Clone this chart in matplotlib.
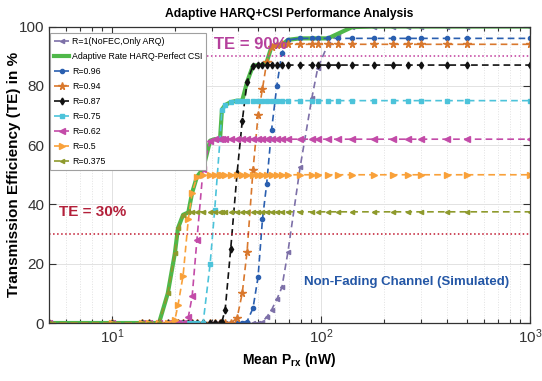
import numpy as np
import matplotlib
matplotlib.use("Agg")
import matplotlib.pyplot as plt
from matplotlib.ticker import LogLocator, NullFormatter

# shared power grid (nW)
p_rx = [5, 10, 14, 15, 16.8, 18.5, 20, 20.7, 21.9, 23.2, 24.2, 25.5, 27.3, 29.5,
        31, 32.9, 33.6, 34.8, 37, 39.7, 42, 44.3, 47.3, 50, 52.5, 55, 58, 61.5,
        65, 69.5, 79.5, 90.5, 96.5, 108, 120, 141, 180, 220, 260, 300, 400, 500, 1000]

te_r1 = [0]*24 + [0.5, 2, 4.4, 8, 12, 24, 52.6, 76, 86, 94, 97.5, 99.8] + [100]*7
te_adaptive = [0, 0, 0, 0, 0, 10, 23.5, 32, 36.5, 37.3, 44, 49.3, 52, 61.5, 62, 62,
               72, 73.5, 74.5, 75, 75, 81.3, 86.8, 87, 87, 88, 93.2, 93.8, 93.8,
               95.5, 96, 96, 96, 96, 97.5, 99.8] + [100]*7
te_096 = [0]*21 + [0.5, 5, 15.5, 35, 47, 65, 80, 91, 95.5] + [96]*13
te_094 = [0]*19 + [1.7, 10, 24, 51.6, 70, 79, 88, 93.2, 93.8] + [94]*15
te_087 = [0]*16 + [0.5, 4.4, 25, 50.6, 68, 81.3, 86.8] + [87]*20
te_075 = [0]*13 + [20, 38, 62, 72, 73.5, 74.5] + [75]*24
te_062 = [0]*9 + [2, 9, 28, 52, 61.5] + [62]*29
te_050 = [0]*6 + [1, 6, 16, 35, 44, 49.3, 49.9] + [50]*30
te_0375 = [0]*5 + [10, 23.5, 32, 36.5, 37.3] + [37.5]*33

labels = ["R=1(NoFEC,Only ARQ)", "Adaptive Rate HARQ-Perfect CSI", "R=0.96", "R=0.94",
          "R=0.87", "R=0.75", "R=0.62", "R=0.5", "R=0.375"]

plt.rcParams["font.family"] = ["Liberation Sans", "DejaVu Sans"]
plt.rcParams["mathtext.fontset"] = "custom"
plt.rcParams["mathtext.rm"] = "Liberation Sans"
plt.rcParams["mathtext.bf"] = "Liberation Sans:bold"

fig = plt.figure(figsize=(5.42, 3.81), dpi=100)
ax = fig.add_axes([0.0904, 0.1522, 0.8875, 0.7782])

dash = (0, (4, 2.5))
ax.plot(p_rx, te_r1, color="#7d70a8", ls=dash, lw=1.2, marker="<", ms=3, label=labels[0])
ax.plot(p_rx, te_adaptive, color="#4fb84a", ls="-", lw=3, label=labels[1])
ax.plot(p_rx, te_096, color="#2a5fb0", ls=dash, lw=1.2, marker="o", ms=3, label=labels[2])
ax.plot(p_rx, te_094, color="#d9782d", ls=dash, lw=1.2, marker="*", ms=5.5, label=labels[3])
ax.plot(p_rx, te_087, color="#111111", ls=dash, lw=1.2, marker="d", ms=3.5, label=labels[4])
ax.plot(p_rx, te_075, color="#4cc3da", ls=dash, lw=1.2, marker="s", ms=3, label=labels[5])
ax.plot(p_rx, te_062, color="#c34ba8", ls=dash, lw=1.2, marker="<", ms=4, label=labels[6])
ax.plot(p_rx, te_050, color="#f9a13a", ls=dash, lw=1.2, marker=">", ms=4, label=labels[7])
ax.plot(p_rx, te_0375, color="#8e9a2c", ls=dash, lw=1.2, marker="<", ms=3, label=labels[8])

ax.axhline(90, color="#c0399b", ls=":", lw=1.1)
ax.axhline(30, color="#c0172e", ls=":", lw=1.1)
ax.text(46, 93.8, "TE = 90%", color="#b5409c", fontsize=12, fontweight="bold",
        ha="center", va="center", zorder=10)
ax.text(8.1, 37.5, "TE = 30%", color="#b3203a", fontsize=11, fontweight="bold",
        ha="center", va="center")
ax.text(258, 13.8, "Non-Fading Channel (Simulated)", color="#2457a6", fontsize=9.5,
        fontweight="bold", ha="center", va="center")

ax.set_xscale("log")
ax.set_xlim(5, 1000)
ax.set_ylim(0, 100)
ax.set_yticks([0, 20, 40, 60, 80, 100])
ax.xaxis.set_minor_locator(LogLocator(base=10, subs=np.arange(2, 10)))
ax.xaxis.set_minor_formatter(NullFormatter())
ax.grid(True, which="major", color="#e2e2e2", lw=0.7)
ax.grid(True, which="minor", axis="x", color="#e2e2e2", lw=0.7, ls=":")
ax.set_axisbelow(True)
ax.tick_params(which="both", direction="in", top=True, right=True, colors="#333333",
               labelsize=11, width=0.8)
ax.tick_params(which="major", length=5)
ax.tick_params(which="minor", length=3)
for s in ax.spines.values():
    s.set_color("#333333")
    s.set_linewidth(0.9)

ax.set_title("Adaptive HARQ+CSI Performance Analysis", fontsize=8.7, fontweight="bold", pad=7)
ax.set_xlabel(r"Mean P$_{\mathbf{rx}}$ (nW)", fontsize=10, fontweight="bold", labelpad=3)
ax.set_ylabel("Transmission Efficiency (TE) in %", fontsize=11, fontweight="bold")
ax.yaxis.set_label_coords(-0.058, 0.5)

leg = ax.legend(loc="upper left", bbox_to_anchor=(0.003, 0.978), borderaxespad=0,
                fontsize=6.3, labelspacing=0.68, handlelength=1.7, handletextpad=0.3,
                fancybox=False, framealpha=1, edgecolor="#a0a0a0", borderpad=0.45)
leg.get_frame().set_linewidth(0.8)

fig.savefig("out.png", dpi=100)
